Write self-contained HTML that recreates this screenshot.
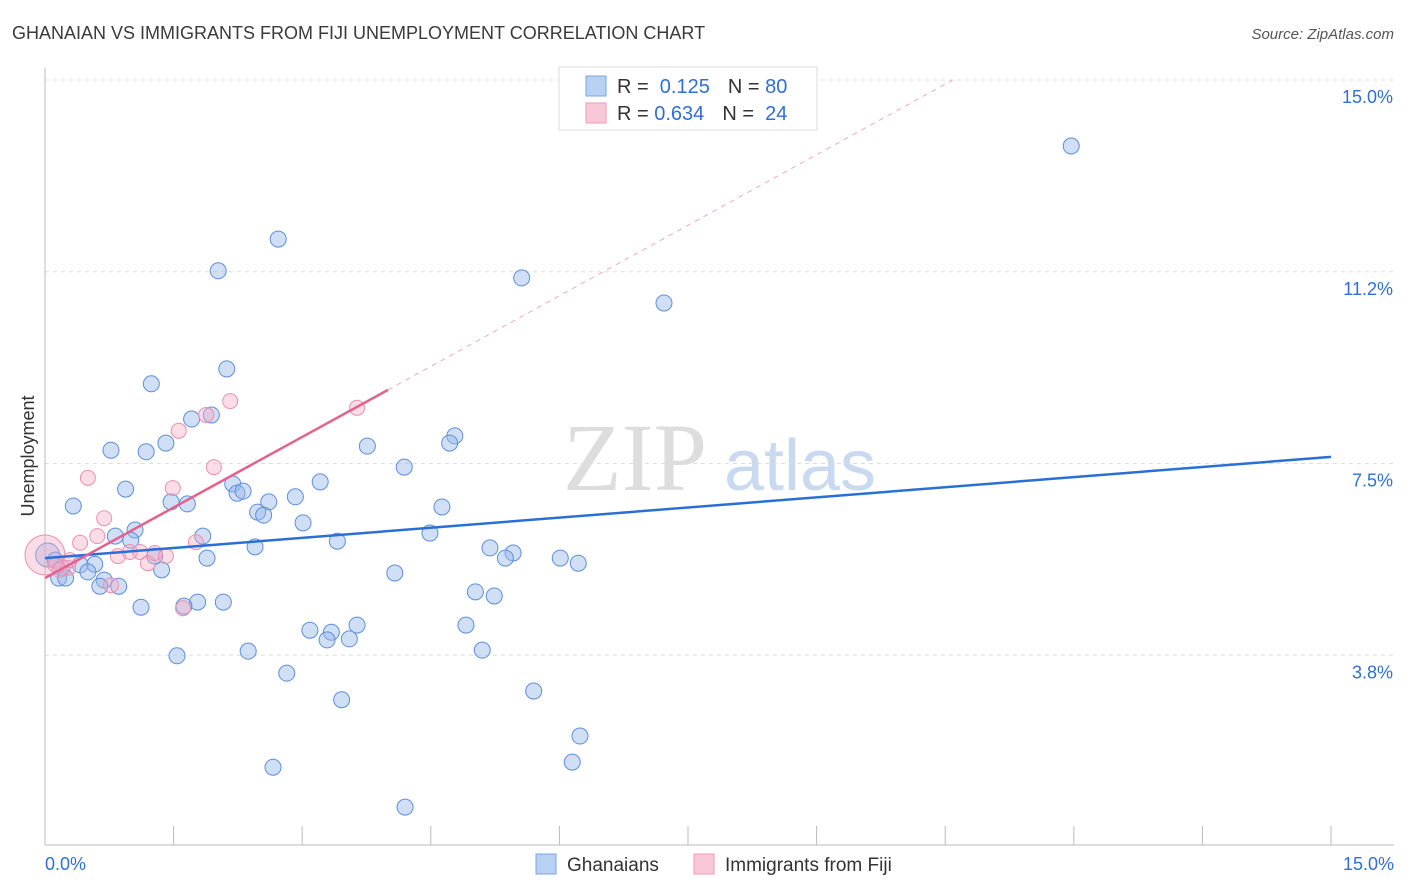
<!DOCTYPE html>
<html><head><meta charset="utf-8"><style>
body{margin:0;background:#fff;font-family:"Liberation Sans",sans-serif;}
svg{display:block}
</style></head><body>
<svg id="chart" width="1406" height="892">
<text x="12" y="39" font-size="18" fill="#3a3a3a">GHANAIAN VS IMMIGRANTS FROM FIJI UNEMPLOYMENT CORRELATION CHART</text>
<text x="1394" y="39" font-size="15" fill="#555" text-anchor="end" font-style="italic">Source: ZipAtlas.com</text>
<text x="34" y="456" font-size="18" fill="#333" text-anchor="middle" transform="rotate(-90 34 456)">Unemployment</text>
<g>
<text x="635" y="490" font-size="96" fill="#ddd" font-family="Liberation Serif,serif" text-anchor="middle">ZIP</text>
<text x="800" y="490" font-size="72" fill="#c9daf0" text-anchor="middle">atlas</text>
</g>
<g id="grid"></g><g id="axes"></g><g id="marks"></g>
<g>
<rect x="559" y="67" width="258" height="63" fill="#fff" stroke="#ddd"/>
<rect x="586" y="76" width="20" height="20" fill="#b8d0f2" stroke="#7aa6e6"/>
<rect x="586" y="103" width="20" height="20" fill="#f9c8d8" stroke="#ee9ab6"/>
<text x="617" y="93" font-size="20" fill="#333">R = <tspan fill="#2f6fd6">&#160;0.125</tspan><tspan dx="18">N = </tspan><tspan fill="#2f6fd6">80</tspan></text>
<text x="617" y="120" font-size="20" fill="#333">R = <tspan fill="#2f6fd6">0.634</tspan><tspan dx="18">N = </tspan><tspan fill="#2f6fd6">&#160;24</tspan></text>
</g>
<g>
<rect x="536" y="854" width="20" height="20" fill="#b8d0f2" stroke="#7aa6e6"/>
<text x="567" y="871" font-size="19" fill="#333">Ghanaians</text>
<rect x="694" y="854" width="20" height="20" fill="#f9c8d8" stroke="#ee9ab6"/>
<text x="725" y="871" font-size="19" fill="#333">Immigrants from Fiji</text>
</g>
</svg>
<script>
const yTicks=[3.75,7.5,11.25,15];
const yTickLabels=["3.8%","7.5%","11.2%","15.0%"];
const xTickLabels=["0.0%","15.0%"];
const blueX=[11.97,2.72,2.02,5.56,7.22,2.12,1.24,1.71,1.94,4.78,4.72,3.76,0.77,1.18,1.41,4.19,0.94,3.21,2.19,2.24,2.31,2.92,0.33,1.47,1.66,2.61,2.48,2.55,4.63,3.01,1.05,0.82,1.84,4.49,1.00,3.41,2.45,5.19,5.46,5.37,6.01,6.22,1.89,1.28,0.03,0.12,0.20,0.41,0.58,0.50,0.16,0.24,1.36,4.08,0.69,0.64,0.86,5.02,5.24,1.78,2.08,1.12,1.62,3.09,3.34,3.29,3.55,3.64,4.91,5.10,2.37,1.54,2.82,5.70,3.46,6.24,2.66,6.15,4.20];
const blueY=[13.71,11.89,11.27,11.13,10.64,9.35,9.06,8.37,8.45,8.04,7.90,7.84,7.76,7.73,7.90,7.43,7.00,7.14,7.10,6.92,6.96,6.85,6.67,6.75,6.71,6.75,6.55,6.49,6.65,6.34,6.20,6.08,6.08,6.14,6.00,5.98,5.87,5.85,5.75,5.65,5.65,5.55,5.65,5.69,5.71,5.61,5.46,5.52,5.53,5.38,5.26,5.26,5.42,5.36,5.22,5.10,5.10,4.99,4.91,4.79,4.79,4.69,4.71,4.24,4.20,4.05,4.07,4.34,4.34,3.85,3.83,3.74,3.40,3.05,2.88,2.17,1.56,1.66,0.78];
const pinkX=[0.0,0.12,0.27,0.50,0.69,0.41,0.61,0.85,0.99,1.11,1.20,1.28,1.41,1.49,1.56,1.88,1.97,2.16,1.76,1.61,3.64,0.77,0.17,0.29];
const pinkY=[5.71,5.52,5.46,7.22,6.43,5.95,6.08,5.69,5.77,5.77,5.55,5.75,5.69,7.02,8.14,8.45,7.43,8.72,5.96,4.67,8.59,5.12,5.42,5.61];
const blueTrend=[5.65,7.63];
const pinkTrend=[5.26,8.94,4.0];
const X0=45,X1=1331,Y0=847,PPY=51.13;
const sx=v=>X0+v/15*(X1-X0), sy=v=>Y0-v*PPY;
const NS="http://www.w3.org/2000/svg";
function mk(p,tag,a){const e=document.createElementNS(NS,tag);for(const k in a)e.setAttribute(k,a[k]);p.appendChild(e);return e;}
const grid=document.getElementById('grid'),axes=document.getElementById('axes'),marks=document.getElementById('marks');
yTicks.forEach((t,i)=>{
 const l=mk(grid,'line',{x1:45,x2:1394,y1:sy(t),y2:sy(t),stroke:'#ddd','stroke-dasharray':'4,4'});
 
 
 const tx=mk(axes,'text',{x:1393,y:sy(t)+23,'font-size':18,fill:'#2f6fd6','text-anchor':'end'});
 tx.textContent=yTickLabels[i];
 
 
});
const ax=mk(axes,'line',{x1:45,x2:1394,y1:845,y2:845,stroke:'#bbb'});


const ay=mk(axes,'line',{x1:45,x2:45,y1:68,y2:845,stroke:'#bbb'});


for(let i=0;i<=10;i++){const t=mk(axes,'line',{x1:sx(i*1.5),x2:sx(i*1.5),y1:826,y2:845,stroke:'#bbb'});
 
 }
[[0,'start',45],[1,'end',1394]].forEach(([i,anc,x])=>{const t=mk(axes,'text',{x:x,y:870,'font-size':18,fill:'#2f6fd6','text-anchor':anc});t.textContent=xTickLabels[i];
 
 });
blueX.forEach((x,i)=>{const c=mk(marks,'circle',{cx:sx(x),cy:sy(blueY[i]),r:i===44?12:8,fill:'rgba(150,185,235,0.45)',stroke:'#5b8fdc','stroke-width':1});
 
 });
pinkX.forEach((x,i)=>{const c=mk(marks,'circle',{cx:sx(x),cy:sy(pinkY[i]),r:i===0?20:7.5,fill:'rgba(245,170,195,0.4)',stroke:'#ec8fb0','stroke-width':1});
 
 });
const bl=mk(marks,'line',{x1:sx(0),y1:sy(blueTrend[0]),x2:sx(15),y2:sy(blueTrend[1]),stroke:'#2a6fd6','stroke-width':2.5});


const slope=(pinkTrend[1]-pinkTrend[0])/pinkTrend[2];
const xEnd=(15-pinkTrend[0])/slope;
const pd=mk(marks,'line',{x1:sx(pinkTrend[2]),y1:sy(pinkTrend[1]),x2:sx(xEnd),y2:sy(15),stroke:'#f0a8c0','stroke-width':1,'stroke-dasharray':'5,5'});


const pl=mk(marks,'line',{x1:sx(0),y1:sy(pinkTrend[0]),x2:sx(pinkTrend[2]),y2:sy(pinkTrend[1]),stroke:'#e4608e','stroke-width':2.5});


</script>
</body></html>
